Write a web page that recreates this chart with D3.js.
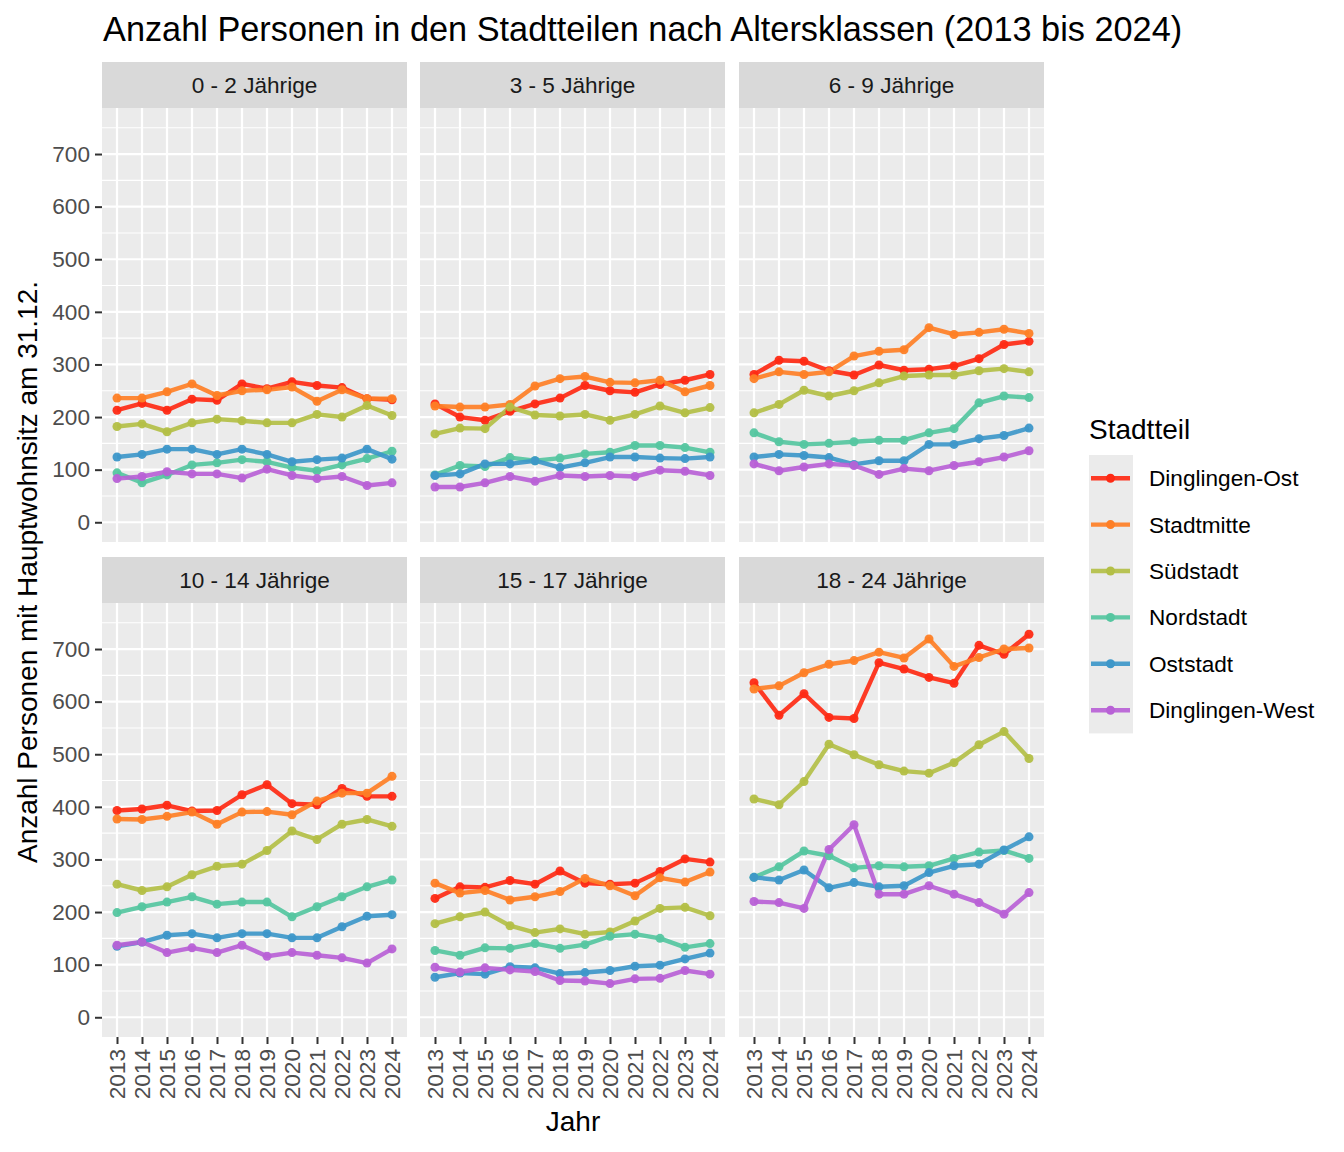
<!DOCTYPE html>
<html>
<head>
<meta charset="utf-8">
<script src="https://cdn.jsdelivr.net/npm/d3@7"></script>
<style>
  html, body { margin: 0; padding: 0; background: #fff; }
  svg { display: block; font-family: "Liberation Sans", Arial, sans-serif; }
</style>
</head>
<body>
<svg id="chart" width="1344" height="1152"></svg>
<script>
// ---------------- DATA ----------------
const years = ["2013","2014","2015","2016","2017","2018","2019","2020","2021","2022","2023","2024"];
const districts = ["Dinglingen-Ost","Stadtmitte","Südstadt","Nordstadt","Oststadt","Dinglingen-West"];
const colors = ["#fe2a14","#fe7f26","#b3bf46","#55c6a0","#3d97c9","#b861d6"];
const ageGroups = ["0 - 2 Jährige","3 - 5 Jährige","6 - 9 Jährige","10 - 14 Jährige","15 - 17 Jährige","18 - 24 Jährige"];
const yTicks = [0,100,200,300,400,500,600,700];

// rows follow the order of `districts`
const vals_0_2 = [
  [213,226,213,234,232,263,254,267,260,256,235,233],
  [236,236,248,263,241,250,252,257,230,252,235,235],
  [182,187,172,189,196,193,189,189,205,200,222,203],
  [94,75,90,109,113,119,115,104,98,109,121,135],
  [124,129,139,139,129,139,129,115,119,122,139,120],
  [83,87,96,92,92,84,101,89,83,87,70,75]
];
const vals_3_5 = [
  [225,200,194,211,225,236,260,250,247,262,270,281],
  [221,219,219,224,259,273,277,266,265,270,248,260],
  [168,179,178,219,204,202,205,194,205,221,208,218],
  [90,108,106,123,117,122,130,133,146,146,142,133],
  [89,92,111,111,117,104,113,124,124,122,121,124],
  [67,67,75,87,78,89,87,89,87,99,97,89]
];
const vals_6_9 = [
  [281,308,306,288,280,299,289,291,297,311,338,344],
  [273,286,281,286,316,325,328,370,357,361,367,359],
  [208,224,251,240,250,265,278,280,280,288,292,286],
  [170,153,148,150,153,156,156,170,178,227,240,237],
  [124,129,127,123,110,117,117,148,148,159,165,179],
  [111,98,105,111,108,91,102,98,108,115,124,136]
];
const vals_10_14 = [
  [393,396,403,392,393,423,442,406,404,435,420,420],
  [377,376,382,390,367,390,391,385,411,426,426,458],
  [253,241,248,271,287,291,317,354,338,367,376,363],
  [199,210,219,229,215,219,219,191,210,229,248,261],
  [135,143,156,159,151,159,159,151,151,172,192,195],
  [137,143,123,132,123,137,116,123,118,113,103,130]
];
const vals_15_17 = [
  [226,248,247,260,253,278,255,253,255,277,301,295],
  [255,236,241,223,229,239,264,250,231,265,257,276],
  [178,191,200,174,161,168,158,162,183,207,209,193],
  [127,118,132,131,140,131,138,154,158,150,133,140],
  [76,84,82,96,94,83,85,89,97,99,111,122],
  [95,86,94,90,87,70,69,64,73,74,89,82]
];
const vals_18_24 = [
  [636,574,615,570,568,674,662,646,635,707,690,728],
  [624,630,655,671,678,694,683,719,667,684,700,702],
  [415,404,448,519,499,480,468,464,484,518,543,492],
  [266,286,316,307,284,288,286,288,302,314,317,302],
  [266,261,280,246,256,248,250,275,288,291,318,343],
  [220,218,207,319,366,234,234,250,234,218,196,237]
];
const panelValues = [vals_0_2, vals_3_5, vals_6_9, vals_10_14, vals_15_17, vals_18_24];

// ---------------- LAYOUT ----------------
const svg = d3.select("#chart");
const colX = [102, 420, 739];
const panelW = 305;
const rowY = [62, 557];   // strip tops
const stripH = 46;
const panelH = 434;
const yDomain = [0, 750];
const yPad = (yDomain[1] - yDomain[0]) * 0.05;

const tickCol = "#4d4d4d";
const font = "'Liberation Sans', Arial, sans-serif";

// title
svg.append("text").attr("x", 103).attr("y", 41)
  .attr("font-size", 34.3).attr("fill", "#000")
  .text("Anzahl Personen in den Stadtteilen nach Altersklassen (2013 bis 2024)");

ageGroups.forEach((ag, i) => {
  const col = i % 3, row = Math.floor(i / 3);
  const x0 = colX[col];
  const sy = rowY[row];
  const py = sy + stripH;

  const x = d3.scalePoint().domain(years).range([x0, x0 + panelW]).padding(0.6);
  const y = d3.scaleLinear().domain([yDomain[0] - yPad, yDomain[1] + yPad]).range([py + panelH, py]);

  const g = svg.append("g");
  // strip
  g.append("rect").attr("x", x0).attr("y", sy).attr("width", panelW).attr("height", stripH).attr("fill", "#d9d9d9");
  g.append("text").attr("x", x0 + panelW / 2).attr("y", sy + stripH / 2 + 8)
    .attr("text-anchor", "middle").attr("font-size", 22.6).attr("fill", "#1a1a1a").text(ag);
  // panel background
  g.append("rect").attr("x", x0).attr("y", py).attr("width", panelW).attr("height", panelH).attr("fill", "#ebebeb");

  // minor y grid
  const minor = d3.range(50, 800, 100).filter(v => v <= yDomain[1] + yPad);
  g.selectAll(".ymin").data(minor).enter().append("line")
    .attr("x1", x0).attr("x2", x0 + panelW).attr("y1", d => y(d)).attr("y2", d => y(d))
    .attr("stroke", "#fff").attr("stroke-width", 1.1);
  // major y grid
  g.selectAll(".ymaj").data(yTicks).enter().append("line")
    .attr("x1", x0).attr("x2", x0 + panelW).attr("y1", d => y(d)).attr("y2", d => y(d))
    .attr("stroke", "#fff").attr("stroke-width", 2.2);
  // major x grid
  g.selectAll(".xmaj").data(years).enter().append("line")
    .attr("x1", d => x(d)).attr("x2", d => x(d)).attr("y1", py).attr("y2", py + panelH)
    .attr("stroke", "#fff").attr("stroke-width", 2.2);

  // lines
  const data = panelValues[i];
  const line = d3.line().x((d, k) => x(years[k])).y(d => y(d));
  data.forEach((series, s) => {
    g.append("path").attr("d", line(series)).attr("fill", "none")
      .attr("stroke", colors[s]).attr("stroke-width", 4.4).attr("stroke-linejoin", "round")
      .attr("stroke-opacity", 0.92);
  });
  data.forEach((series, s) => {
    g.selectAll(null).data(series).enter().append("circle")
      .attr("cx", (d, k) => x(years[k])).attr("cy", d => y(d)).attr("r", 4.5)
      .attr("fill", colors[s]).attr("fill-opacity", 0.95);
  });

  // y axis on left column
  if (col === 0) {
    const ax = svg.append("g").attr("transform", `translate(${x0},0)`)
      .call(d3.axisLeft(y).tickValues(yTicks).tickSize(7).tickPadding(5));
    ax.select(".domain").remove();
    ax.selectAll(".tick line").attr("stroke", "#333").attr("stroke-width", 2);
    ax.selectAll(".tick text").attr("font-size", 22.6).attr("fill", tickCol).attr("font-family", font);
  }
  // x axis on bottom row
  if (row === 1) {
    const ax = svg.append("g").attr("transform", `translate(0,${py + panelH})`)
      .call(d3.axisBottom(x).tickSize(7).tickPadding(6));
    ax.select(".domain").remove();
    ax.selectAll(".tick line").attr("stroke", "#333").attr("stroke-width", 2);
    ax.selectAll(".tick text").attr("font-size", 22.6).attr("fill", tickCol).attr("font-family", font)
      .attr("transform", "rotate(-90)").attr("text-anchor", "end")
      .attr("x", -12).attr("y", 0).attr("dy", "0.35em");
  }
});

// axis titles
svg.append("text").attr("x", 573).attr("y", 1131).attr("text-anchor", "middle")
  .attr("font-size", 28).attr("fill", "#000").text("Jahr");
svg.append("text").attr("transform", "translate(37,572) rotate(-90)").attr("text-anchor", "middle")
  .attr("font-size", 28).attr("fill", "#000").text("Anzahl Personen mit Hauptwohnsitz am 31.12.");

// legend
const lg = svg.append("g");
lg.append("text").attr("x", 1089).attr("y", 439).attr("font-size", 28).attr("fill", "#000").text("Stadtteil");
const keyH = 46.4, keyTop = 455;
lg.append("rect").attr("x", 1089).attr("y", keyTop).attr("width", 44).attr("height", keyH * districts.length).attr("fill", "#ebebeb");
districts.forEach((d, s) => {
  const cy = keyTop + keyH * s + keyH / 2;
  lg.append("line").attr("x1", 1091).attr("x2", 1130).attr("y1", cy).attr("y2", cy)
    .attr("stroke", colors[s]).attr("stroke-width", 4.4).attr("stroke-opacity", 0.92);
  lg.append("circle").attr("cx", 1110.5).attr("cy", cy).attr("r", 4.5).attr("fill", colors[s]);
  lg.append("text").attr("x", 1149).attr("y", cy + 8).attr("font-size", 22.6).attr("fill", "#000").text(d);
});
</script>
</body>
</html>
